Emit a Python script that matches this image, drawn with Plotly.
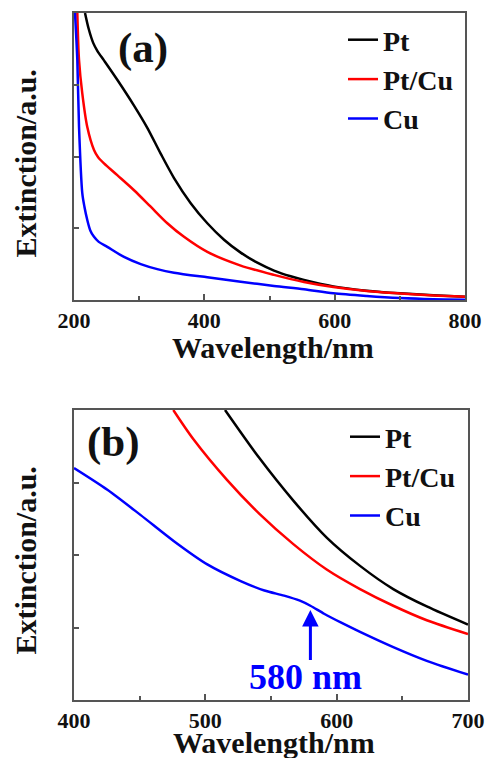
import plotly.graph_objects as go

# ---- Panel (a): full spectra 200-800 nm ----
wl_pt_a = [216.9, 222.5, 229.6, 236.0, 246.0, 266.4, 292.1, 312.5, 333.0, 353.5, 379.1, 404.6,
           430.2, 455.8, 481.3, 506.9, 532.5, 552.9, 597.9, 649.2, 700.3, 751.4, 800.0]
ext_pt_a = [4.0, 3.78, 3.58, 3.47, 3.34, 3.07, 2.71, 2.40, 2.04, 1.70, 1.35, 1.07,
            0.84, 0.66, 0.52, 0.41, 0.33, 0.28, 0.19, 0.13, 0.093, 0.066, 0.046]

wl_ptcu_a = [205.1, 207.7, 212.7, 220.4, 230.7, 237.0, 246.0, 266.4, 292.1, 317.7, 343.2, 368.8,
             404.6, 455.8, 506.9, 552.9, 597.9, 649.2, 700.3, 751.4, 800.0]
ext_ptcu_a = [4.0, 3.345, 2.88, 2.41, 2.09, 1.99, 1.905, 1.74, 1.53, 1.30, 1.07, 0.88,
              0.67, 0.48, 0.35, 0.25, 0.18, 0.125, 0.09, 0.062, 0.045]

wl_cu_a = [201.5, 205.1, 207.7, 212.7, 216.0, 220.4, 225.0, 230.7, 238.0, 251.1, 276.7, 302.4,
           327.8, 353.5, 404.6, 455.8, 506.9, 552.9, 597.9, 649.2, 700.3, 751.4, 800.0]
ext_cu_a = [4.0, 3.345, 2.415, 1.49, 1.30, 1.115, 0.97, 0.88, 0.81, 0.74, 0.60, 0.50,
            0.43, 0.38, 0.316, 0.255, 0.195, 0.149, 0.093, 0.056, 0.028, 0.012, 0.005]

# ---- Panel (b): close-up 400-700 nm ----
wl_pt_b = [515.0, 541.0, 567.0, 592.4, 617.8, 643.1, 668.6, 700.0]
ext_pt_b = [4.0, 3.34, 2.75, 2.24, 1.85, 1.53, 1.29, 1.04]

wl_ptcu_b = [475.6, 490.8, 516.3, 541.6, 567.0, 592.4, 617.8, 643.1, 668.6, 700.0]
ext_ptcu_b = [4.0, 3.60, 3.04, 2.56, 2.15, 1.80, 1.53, 1.30, 1.10, 0.91]

wl_cu_b = [400.0, 425.4, 450.8, 476.1, 501.5, 526.9, 545.0, 560.0, 572.0, 580.0,
           590.4, 603.1, 617.8, 643.1, 668.6, 700.0]
ext_cu_b = [3.20, 2.90, 2.55, 2.19, 1.87, 1.64, 1.51, 1.44, 1.37, 1.30,
            1.19, 1.07, 0.94, 0.73, 0.54, 0.35]

series_names = ["Pt", "Pt/Cu", "Cu"]
series_colors = ["#000000", "#ff0000", "#0000ff"]

xticks_a = [200, 400, 600, 800]
xminor_a = [300, 500, 700]
xticks_b = [400, 500, 600, 700]
xminor_b = [450, 550, 650]
yticks = [1, 2, 3]

peak_wl = 580
peak_label = "580 nm"

FONT = "Liberation Serif"
FRAME = "#555555"
INK = "#111111"

fig = go.Figure()

data_a = [(wl_pt_a, ext_pt_a), (wl_ptcu_a, ext_ptcu_a), (wl_cu_a, ext_cu_a)]
data_b = [(wl_pt_b, ext_pt_b), (wl_ptcu_b, ext_ptcu_b), (wl_cu_b, ext_cu_b)]

for (x, y), name, col in zip(data_a, series_names, series_colors):
    fig.add_trace(go.Scatter(x=x, y=y, mode="lines", name=name,
                             line=dict(color=col, width=2.5, shape="spline", smoothing=0.8),
                             xaxis="x", yaxis="y", legend="legend"))
for (x, y), name, col in zip(data_b, series_names, series_colors):
    fig.add_trace(go.Scatter(x=x, y=y, mode="lines", name=name,
                             line=dict(color=col, width=2.5, shape="spline", smoothing=0.8),
                             xaxis="x2", yaxis="y2", legend="legend2"))

W, H = 486, 758


def px_x(p):
    return p / W


def px_y(p):
    return 1 - p / H


common_x = dict(ticks="inside", ticklen=6, tickwidth=1.5, tickcolor=FRAME,
                showline=True, linecolor=FRAME, linewidth=1.5, mirror=True,
                showgrid=False, zeroline=False, automargin=False,
                tickfont=dict(family=FONT, size=22, color=INK, weight="bold"))
common_y = dict(ticks="inside", ticklen=5, tickwidth=1.5, tickcolor=FRAME,
                showline=True, linecolor=FRAME, linewidth=1.5, mirror=True,
                showgrid=False, zeroline=False, showticklabels=False, automargin=False,
                range=[0, 4], tickvals=yticks)

legend_style = dict(font=dict(family=FONT, size=28, color=INK, weight="bold"),
                    bgcolor="rgba(0,0,0,0)", xanchor="left", yanchor="top",
                    itemwidth=30, tracegroupgap=0)

fig.update_layout(
    width=W, height=H,
    margin=dict(l=0, r=0, t=0, b=0, autoexpand=False),
    paper_bgcolor="white", plot_bgcolor="white",
    showlegend=True,
    xaxis=dict(domain=[px_x(74), px_x(465)], anchor="y", range=[200, 800],
               tickvals=xticks_a,
               minor=dict(tickvals=xminor_a, ticks="inside", ticklen=4, tickcolor=FRAME, tickwidth=1.5),
               **common_x),
    yaxis=dict(domain=[px_y(300), px_y(13)], anchor="x", **common_y),
    xaxis2=dict(domain=[px_x(74), px_x(468)], anchor="y2", range=[400, 700],
                tickvals=xticks_b,
                minor=dict(tickvals=xminor_b, ticks="inside", ticklen=4, tickcolor=FRAME, tickwidth=1.5),
                **common_x),
    yaxis2=dict(domain=[px_y(700), px_y(410)], anchor="x2", **common_y),
    legend=dict(x=px_x(343), y=px_y(15), **legend_style),
    legend2=dict(x=px_x(345), y=px_y(412), **legend_style),
)

title_font = dict(family=FONT, size=30, color=INK, weight="bold")
centered = dict(xref="paper", yref="paper", showarrow=False, xanchor="center", yanchor="middle")

# axis titles
fig.add_annotation(text="Extinction/a.u.", textangle=-90, x=px_x(25), y=px_y(163.5),
                   font=title_font, **centered)
fig.add_annotation(text="Extinction/a.u.", textangle=-90, x=px_x(25), y=px_y(560.5),
                   font=title_font, **centered)
fig.add_annotation(text="Wavelength/nm", x=px_x(272.5), y=px_y(347),
                   font=title_font, **centered)
fig.add_annotation(text="Wavelength/nm", x=px_x(273.5), y=px_y(742),
                   font=title_font, **centered)

# panel labels
panel_font = dict(family=FONT, size=43, color=INK, weight="bold")
fig.add_annotation(text="(a)", x=px_x(143), y=px_y(48.5), font=panel_font, **centered)
fig.add_annotation(text="(b)", x=px_x(113.5), y=px_y(442), font=panel_font, **centered)

# shoulder marker on the Cu spectrum
fig.add_annotation(x=peak_wl, y=1.24, ax=peak_wl, ay=0.53, xref="x2", yref="y2",
                   axref="x2", ayref="y2", text="", showarrow=True,
                   arrowhead=2, arrowsize=1.1, arrowwidth=3, arrowcolor="#0000ff")
fig.add_annotation(x=576.3, y=0.32, xref="x2", yref="y2", text=peak_label, showarrow=False,
                   xanchor="center", yanchor="middle",
                   font=dict(family=FONT, size=36, color="#0000ff", weight="bold"))

fig.write_html("out.html")
